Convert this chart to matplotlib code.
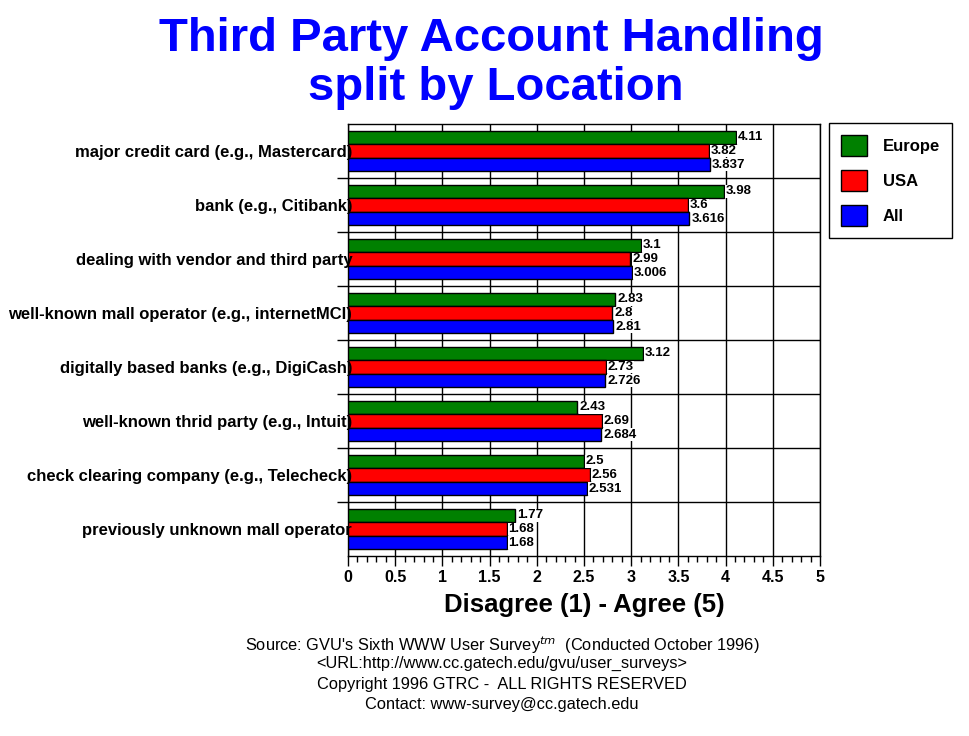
import matplotlib
matplotlib.use("Agg")
import matplotlib.pyplot as plt
import numpy as np
from matplotlib.patches import Patch

plt.rcParams["font.family"] = ["Liberation Sans", "DejaVu Sans"]

# data
categories = [
    "major credit card (e.g., Mastercard)",
    "bank (e.g., Citibank)",
    "dealing with vendor and third party",
    "well-known mall operator (e.g., internetMCI)",
    "digitally based banks (e.g., DigiCash)",
    "well-known thrid party (e.g., Intuit)",
    "check clearing company (e.g., Telecheck)",
    "previously unknown mall operator",
]
europe = [4.11, 3.98, 3.1, 2.83, 3.12, 2.43, 2.5, 1.77]
usa = [3.82, 3.6, 2.99, 2.8, 2.73, 2.69, 2.56, 1.68]
all_resp = [3.837, 3.616, 3.006, 2.81, 2.726, 2.684, 2.531, 1.68]
series_names = ["Europe", "USA", "All"]
series_colors = ["#008000", "#ff0000", "#0000ff"]

fig = plt.figure(figsize=(9.7, 7.36), dpi=100)
ax = fig.add_axes([348 / 970, 1 - 556 / 736, 472 / 970, 432 / 736])

y = np.arange(len(categories))
h = 0.25
offsets = [-h, 0, h]
for vals, off, col in zip([europe, usa, all_resp], offsets, series_colors):
    bars = ax.barh(y + off, vals, height=h, color=col, edgecolor="black",
                   linewidth=1, zorder=3)
    for b, v in zip(bars, vals):
        ax.text(v + 0.02, b.get_y() + b.get_height() / 2, f"{v:g}",
                va="center", ha="left", fontsize=9.5, fontweight="bold",
                zorder=4,
                bbox=dict(facecolor="white", edgecolor="none", pad=0.3))

ax.set_xlim(0, 5)
ax.set_ylim(len(categories) - 0.5, -0.5)

ax.set_xticks(np.arange(0, 5.01, 0.5))
ax.set_xticklabels([f"{t:g}" for t in np.arange(0, 5.01, 0.5)],
                   fontsize=11.5, fontweight="bold")
ax.set_xticks(np.arange(0, 5.01, 0.1), minor=True)
ax.tick_params(axis="x", which="major", length=7, width=1, direction="out", pad=3)
ax.tick_params(axis="x", which="minor", length=4, width=1, direction="out")

ax.set_yticks(y)
ax.set_yticklabels(categories, fontsize=12, fontweight="bold")
ax.set_yticks(np.arange(0.5, len(categories) - 0.5, 1), minor=True)
ax.tick_params(axis="y", which="major", length=0, pad=-3)
ax.tick_params(axis="y", which="minor", length=8, width=1, direction="out")

ax.grid(True, axis="x", which="major", color="black", linewidth=1)
ax.grid(True, axis="y", which="minor", color="black", linewidth=1)
ax.set_axisbelow(True)
# category labels sit on top of the bars, like the original
ax.yaxis.set_zorder(5)
for s in ax.spines.values():
    s.set_linewidth(1)

ax.set_xlabel("Disagree (1) - Agree (5)", fontsize=18.5, fontweight="bold")
ax.xaxis.set_label_coords(0.5, (556 - 605) / 432)
ax.xaxis.label.set_va("center")

fig.text(491 / 970, 1 - 51 / 736, "Third Party Account Handling",
         ha="center", va="baseline", fontsize=34, fontweight="bold", color="#0000ff")
fig.text(496 / 970, 1 - 100 / 736, "split by Location",
         ha="center", va="baseline", fontsize=34, fontweight="bold", color="#0000ff")

handles = [Patch(facecolor=c, edgecolor="black", linewidth=1) for c in series_colors]
leg = fig.legend(handles, series_names, loc="upper left",
                 bbox_to_anchor=(829 / 970, 1 - 123 / 736), borderaxespad=0,
                 prop={"size": 12, "weight": "bold"},
                 handlelength=1.56, handleheight=1.56,
                 labelspacing=0.85, handletextpad=0.96, borderpad=0.7,
                 fancybox=False, framealpha=1, edgecolor="black")
leg.get_frame().set_linewidth(1)

footer = [
    "Source: GVU's Sixth WWW User Survey$^{tm}$  (Conducted October 1996)",
    "<URL:http://www.cc.gatech.edu/gvu/user_surveys>",
    "Copyright 1996 GTRC -  ALL RIGHTS RESERVED",
    "Contact: www-survey@cc.gatech.edu",
]
footer_y = [645, 663, 684, 705]
for line, yy in zip(footer, footer_y):
    fig.text(502 / 970, 1 - yy / 736, line, ha="center", va="center",
             fontsize=11.8)

fig.savefig("out.png", dpi=100, facecolor="white")
